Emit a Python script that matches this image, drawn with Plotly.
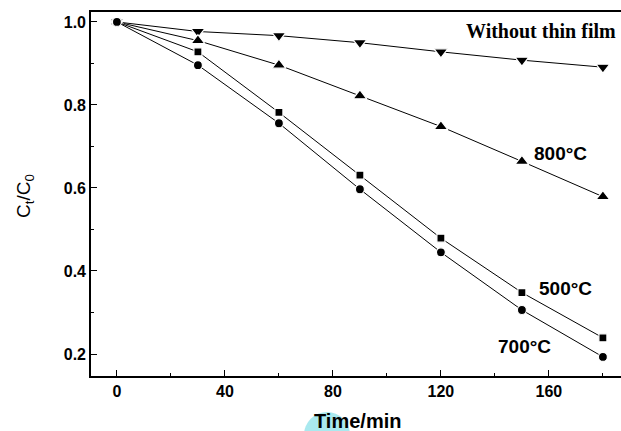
import plotly.graph_objects as go

time_min = [0, 30, 60, 90, 120, 150, 180]
without_film = [1.0, 0.977, 0.967, 0.950, 0.928, 0.908, 0.891]
c800 = [1.0, 0.955, 0.896, 0.822, 0.748, 0.664, 0.579]
c500 = [1.0, 0.928, 0.782, 0.631, 0.479, 0.348, 0.239]
c700 = [1.0, 0.896, 0.756, 0.597, 0.445, 0.306, 0.193]

series = [
    ("Without thin film", without_film, "triangle-down", 12),
    ("800°C", c800, "triangle-up", 12),
    ("500°C", c500, "square", 8),
    ("700°C", c700, "circle", 9),
]

fig = go.Figure()
for name, vals, sym, sz in series:
    fig.add_trace(go.Scatter(
        x=time_min, y=vals, mode="lines+markers", name=name,
        line=dict(color="black", width=1),
        marker=dict(symbol=sym, size=sz, color="black",
                    line=dict(color="white", width=1.2)),
        showlegend=False,
    ))

axis_font = dict(family="Liberation Sans, Arial", size=16, color="black", weight="bold")

fig.update_layout(
    width=621, height=431,
    margin=dict(l=91, r=0, t=12, b=55),
    plot_bgcolor="white", paper_bgcolor="white",
    xaxis=dict(
        range=[-9.6, 186.7], tickvals=[0, 40, 80, 120, 160],
        ticks="inside", ticklen=6, tickwidth=1.3, tickcolor="black",
        minor=dict(tickvals=[20, 60, 100, 140, 180], ticks="inside", ticklen=3, tickcolor="black", tickwidth=1),
        showline=True, linecolor="black", linewidth=1.6, mirror=True,
        showgrid=False, zeroline=False, tickfont=axis_font,
    ),
    yaxis=dict(
        range=[0.147, 1.024], tickvals=[0.2, 0.4, 0.6, 0.8, 1.0], ticktext=["0.2", "0.4", "0.6", "0.8", "1.0"],
        ticks="inside", ticklen=6, tickwidth=1.3, tickcolor="black",
        minor=dict(tickvals=[0.3, 0.5, 0.7, 0.9], ticks="inside", ticklen=3, tickcolor="black", tickwidth=1),
        showline=True, linecolor="black", linewidth=1.6,
        showgrid=False, zeroline=False, tickfont=axis_font,
    ),
)

# light cyan blob behind the x title
fig.add_shape(type="circle", xref="paper", yref="paper",
              x0=(304 - 91) / 530, x1=(350 - 91) / 530,
              y0=(376 - 458) / 364, y1=(376 - 412) / 364,
              fillcolor="#a9e9ef", line=dict(width=0), layer="below")

label_font = dict(family="Liberation Sans, Arial", size=19, color="black", weight="bold")
fig.add_annotation(text="Without thin film", x=185.6, y=0.978, xref="x", yref="y",
                   xanchor="right", yanchor="middle", showarrow=False,
                   font=dict(family="Liberation Serif, Times New Roman", size=20, color="black", weight="bold"))
fig.add_annotation(text="800°C", x=153.7, y=0.682, xref="x", yref="y",
                   xanchor="left", yanchor="middle", showarrow=False, font=label_font)
fig.add_annotation(text="500°C", x=155.5, y=0.358, xref="x", yref="y",
                   xanchor="left", yanchor="middle", showarrow=False, font=label_font)
fig.add_annotation(text="700°C", x=140.5, y=0.219, xref="x", yref="y",
                   xanchor="left", yanchor="middle", showarrow=False, font=label_font)

fig.add_annotation(text="C<sub>t</sub>/C<sub>0</sub>", xref="paper", yref="paper",
                   x=(25 - 91) / 530, y=(376 - 196) / 364, textangle=-90,
                   xanchor="center", yanchor="middle", showarrow=False,
                   font=dict(family="Liberation Sans, Arial", size=19, color="black"))
fig.add_annotation(text="Time/min", xref="paper", yref="paper",
                   x=(357 - 91) / 530, y=(376 - 421) / 364,
                   xanchor="center", yanchor="middle", showarrow=False,
                   font=dict(family="Liberation Sans, Arial", size=20, color="black", weight="bold"))

fig.write_html("out.html")
